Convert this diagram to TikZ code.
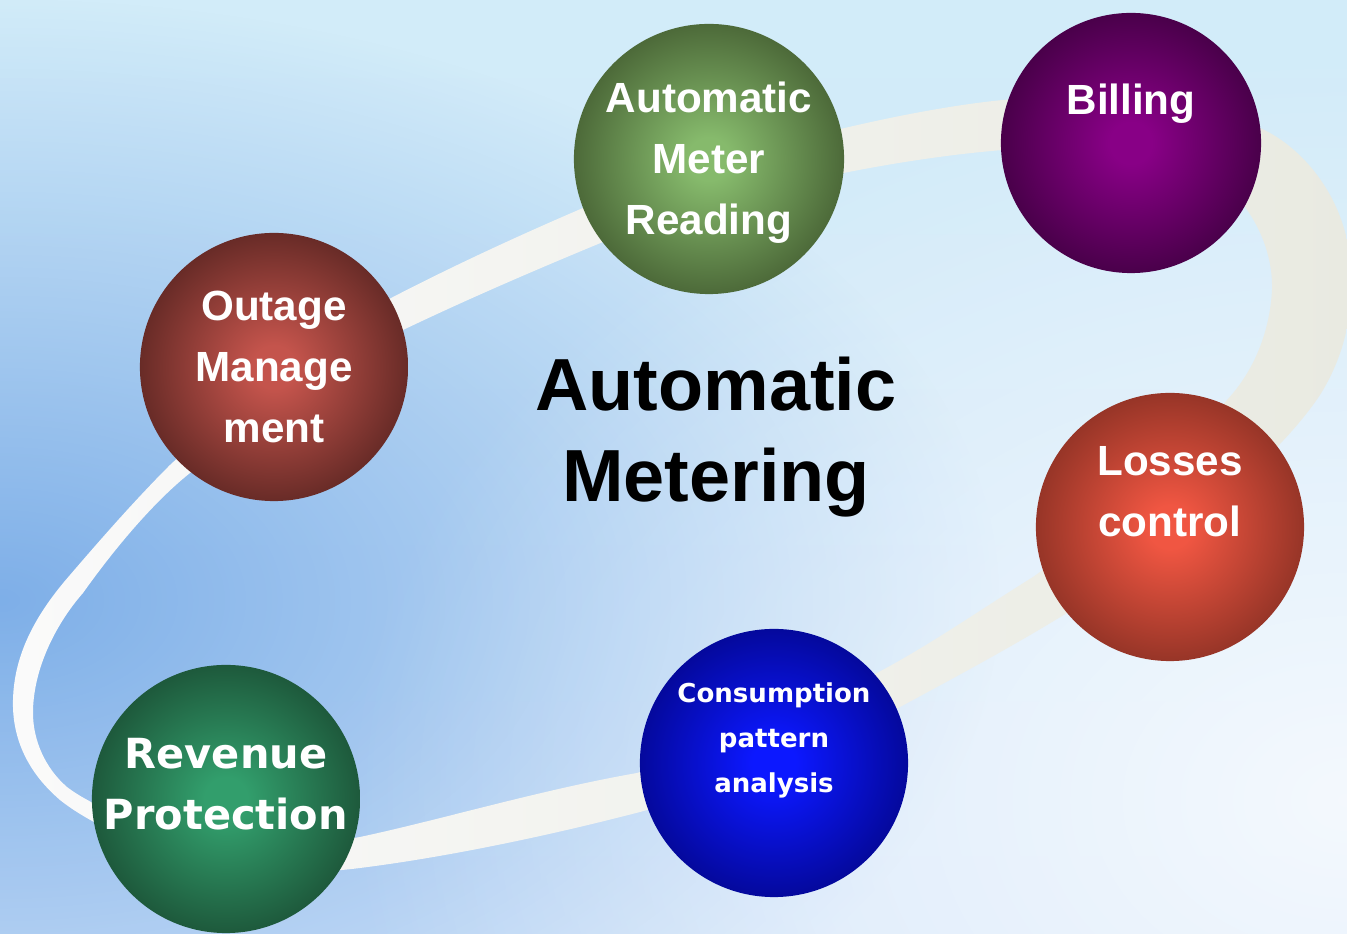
\documentclass[tikz,border=0pt]{standalone}
\usepackage{fontspec}
\setmainfont{Liberation Sans}
\newfontfamily\verdanalike{DejaVu Sans}
\usetikzlibrary{fadings}

\definecolor{bgtop}{RGB}{210,236,249}
\definecolor{bgmid}{RGB}{146,198,240}
\definecolor{bgbot}{RGB}{212,230,250}
\definecolor{bgdeep}{RGB}{98,156,226}
\definecolor{ringleft}{RGB}{250,250,250}
\definecolor{ringright}{RGB}{233,234,225}
\definecolor{amrin}{RGB}{134,186,108}
\definecolor{amrout}{RGB}{44,60,28}
\definecolor{billin}{RGB}{136,0,134}
\definecolor{billout}{RGB}{38,0,40}
\definecolor{outin}{RGB}{196,84,76}
\definecolor{outout}{RGB}{52,20,18}
\definecolor{lossin}{RGB}{240,86,66}
\definecolor{lossout}{RGB}{100,34,24}
\definecolor{consin}{RGB}{12,24,255}
\definecolor{consout}{RGB}{0,0,100}
\definecolor{revin}{RGB}{50,158,108}
\definecolor{revout}{RGB}{18,50,32}

\colorlet{orbin}{white}
\colorlet{orbout}{black}
\pgfdeclareradialshading[orbin,orbout]{orbshade}{\pgfpoint{0bp}{0bp}}{%
  color(0bp)=(orbin); color(4bp)=(orbin); color(37bp)=(orbout); color(50bp)=(orbout)}

\tikzfading[name=softblob, inner color=transparent!25, outer color=transparent!100]

\tikzset{
  orb/.style 2 args={circle, minimum size=2.68cm, inner sep=0pt,
    /utils/exec={\colorlet{orbin}{#1}\colorlet{orbout}{#2}}, shading=orbshade},
  orbtext/.style={text=white, align=center, font=\bfseries\fontsize{12}{17.4}\selectfont},
  orbtextv/.style 2 args={text=white, align=center, font=\verdanalike\bfseries\fontsize{#1}{#2}\selectfont},
  title/.style={text=black, align=center, font=\bfseries\fontsize{21}{25.9}\selectfont}
}

\begin{document}
\begin{tikzpicture}[x=0.01cm, y=-0.01cm]
    % Background
    \useasboundingbox (0,0) rectangle (1347,934);
    \clip (0,0) rectangle (1347,934);
    \shade[top color=bgtop, middle color=bgmid, bottom color=bgbot] (0,0) rectangle (1347,934);
    \fill[bgdeep, path fading=softblob] (0,600) ellipse (10cm and 6cm);
    \fill[white, path fading=softblob] (1347,800) ellipse (10cm and 7.5cm);

    % Ring running behind the orbs (outer edge, then inner edge)
    \shade[left color=ringleft, right color=ringright, even odd rule]
        (640,812) .. controls (540,838) and (440,858) .. (360,868)
        .. controls (230,885) and (110,840) .. (60,800)
        .. controls (25,770) and (12,735) .. (13,700)
        .. controls (14,655) and (35,615) .. (70,575)
        .. controls (100,540) and (135,500) .. (170,465)
        .. controls (240,400) and (320,335) .. (393,297)
        .. controls (455,265) and (520,235) .. (583,208)
        .. controls (690,165) and (880,112) .. (1003,100)
        .. controls (1100,92) and (1200,105) .. (1260,128)
        .. controls (1305,148) and (1345,200) .. (1350,260)
        .. controls (1355,310) and (1345,355) .. (1320,395)
        .. controls (1270,470) and (1150,560) .. (1067,613)
        .. controls (1010,648) and (950,680) .. (900,707)
        .. controls (800,760) and (720,790) .. cycle
        (637,773) .. controls (540,790) and (440,820) .. (360,837)
        .. controls (230,860) and (110,820) .. (67,787)
        .. controls (45,768) and (33,740) .. (33,713)
        .. controls (33,670) and (55,625) .. (83,593)
        .. controls (110,555) and (150,505) .. (190,473)
        .. controls (260,420) and (340,365) .. (403,330)
        .. controls (470,298) and (540,268) .. (603,242)
        .. controls (720,195) and (880,160) .. (1003,150)
        .. controls (1100,145) and (1200,165) .. (1245,207)
        .. controls (1262,230) and (1273,260) .. (1272,290)
        .. controls (1270,330) and (1255,370) .. (1227,400)
        .. controls (1180,460) and (1100,530) .. (1033,577)
        .. controls (980,610) and (930,645) .. (877,673)
        .. controls (790,710) and (710,750) .. cycle;

    % Orbs
    \node[orb={amrin}{amrout}, minimum size=2.7cm] (amr) at (709,159) {};
    \node[orb={billin}{billout}, minimum size=2.6cm] (bill) at (1131,143) {};
    \node[orb={outin}{outout}] (outage) at (274,367) {};
    \node[orb={lossin}{lossout}] (loss) at (1170,527) {};
    \node[orb={consin}{consout}] (cons) at (774,763) {};
    \node[orb={revin}{revout}] (rev) at (226,799) {};

    % Labels
    \node[orbtext] (amrtext) at ([yshift=-0.04cm]amr.center) {Automatic\\Meter\\Reading};
    \node[orbtext] (billtext) at ([yshift=0.39cm]bill.center) {Billing};
    \node[orbtext] (outagetext) at (outage) {Outage\\Manage\\ment};
    \node[orbtext] (losstext) at ([yshift=0.35cm]loss.center) {Losses\\control};
    \node[orbtextv={7.4}{12.8}] (constext) at ([yshift=0.23cm]cons.center) {Consumption\\pattern\\analysis};
    \node[orbtextv={11.8}{17.4}] (revtext) at ([yshift=0.15cm]rev.center) {Revenue\\Protection};
    \node[title] (centre) at (716,437) {Automatic\\Metering};
\end{tikzpicture}
\end{document}
